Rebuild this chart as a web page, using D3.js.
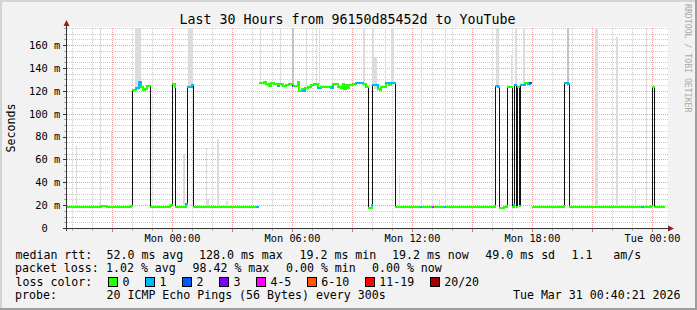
<!DOCTYPE html>
<html>
<head>
<meta charset="utf-8">
<script src="https://cdn.jsdelivr.net/npm/d3@7"></script>
<style>
body{margin:0;background:#f2f2f2}
svg{display:block;font-family:"DejaVu Sans Mono",monospace}
</style>
</head>
<body>
<script>
// SmokePing style latency graph, last 30 hours

var titleText = "Last 30 Hours from 96150d85452d to YouTube";
var viewStart = "Sun 18:45", viewEnd = "Tue 00:45";
var yMax = 175;
var yTicks = [0, 20, 40, 60, 80, 100, 120, 140, 160];

// median rtt (ms) per step, step lasts until the next entry, null = no data
var medTime = ["Sun 18:45","Sun 19:09","Sun 19:24","Sun 19:36","Sun 19:51","Sun 20:09","Sun 20:24","Sun 20:42","Sun 20:54","Sun 21:12",
  "Sun 21:30","Sun 21:45","Sun 21:54","Sun 22:00","Sun 22:09","Sun 22:18","Sun 22:25","Sun 22:31","Sun 22:36","Sun 22:42",
  "Sun 22:54","Sun 23:09","Sun 23:24","Sun 23:42","Sun 23:51","Sun 23:55","Mon 00:00","Mon 00:06","Mon 00:09","Mon 00:24",
  "Mon 00:40","Mon 00:45","Mon 00:57","Mon 01:02","Mon 02:48","Mon 04:12","Mon 04:17","Mon 04:22","Mon 04:34","Mon 04:39",
  "Mon 04:49","Mon 04:54","Mon 05:04","Mon 05:14","Mon 05:19","Mon 05:29","Mon 05:39","Mon 05:49","Mon 05:59","Mon 06:04",
  "Mon 06:14","Mon 06:19","Mon 06:27","Mon 06:31","Mon 06:37","Mon 06:44","Mon 06:54","Mon 07:04","Mon 07:14","Mon 07:24",
  "Mon 07:54","Mon 07:59","Mon 08:14","Mon 08:24","Mon 08:29","Mon 08:34","Mon 08:39","Mon 08:44","Mon 08:49","Mon 08:59",
  "Mon 09:09","Mon 09:29","Mon 09:39","Mon 09:47","Mon 09:57","Mon 10:00","Mon 10:14","Mon 10:21","Mon 10:24","Mon 10:39",
  "Mon 10:49","Mon 10:54","Mon 11:08","Mon 11:24","Mon 11:39","Mon 11:54","Mon 12:09","Mon 12:24","Mon 12:31","Mon 12:48",
  "Mon 12:59","Mon 13:05","Mon 13:24","Mon 13:36","Mon 13:42","Mon 14:00","Mon 14:18","Mon 14:39","Mon 15:00","Mon 15:24",
  "Mon 15:48","Mon 16:06","Mon 16:09","Mon 16:14","Mon 16:22","Mon 16:33","Mon 16:42","Mon 16:46","Mon 16:59","Mon 17:04",
  "Mon 17:06","Mon 17:11","Mon 17:16","Mon 17:21","Mon 17:25","Mon 17:37","Mon 17:46","Mon 17:52","Mon 17:56","Mon 18:01",
  "Mon 18:15","Mon 18:24","Mon 18:48","Mon 19:03","Mon 19:18","Mon 19:27","Mon 19:33","Mon 19:37","Mon 19:45","Mon 19:52",
  "Mon 20:09","Mon 20:24","Mon 20:42","Mon 20:54","Mon 21:24","Mon 21:42","Mon 22:09","Mon 22:24","Mon 22:54","Mon 23:15",
  "Mon 23:28","Mon 23:36","Mon 23:54","Tue 00:01","Tue 00:06","Tue 00:18","Tue 00:37"];
var medRtt = [19.0,18.6,19.0,18.7,19.1,18.8,19.3,18.8,19.2,18.7,
  19.0,18.6,19.6,121.5,122.5,128.0,123.5,121.0,122.3,124.5,
  18.9,18.6,19.0,18.7,19.5,20.2,126.5,123.7,18.9,18.7,
  21.6,123.7,125.3,18.5,19.0,19.0,null,127.5,128.4,126.6,
  125.1,127.5,126.6,125.1,126.6,125.1,125.7,126.6,124.5,125.1,
  128.4,120.7,122.2,120.7,123.2,124.2,125.7,126.6,123.2,124.2,
  123.2,126.0,124.2,123.2,126.6,122.2,125.5,122.5,125.7,126.6,
  127.5,126.6,124.2,18.1,21.0,125.3,122.0,121.5,123.7,127.0,
  125.7,127.5,19.0,18.5,19.0,18.5,19.0,18.6,18.8,18.5,
  18.5,18.8,19.2,18.8,19.0,18.6,19.2,18.7,19.0,18.8,
  19.1,19.5,125.1,123.5,18.2,18.8,19.8,124.2,19.0,21.0,
  125.5,19.2,124.2,19.5,125.7,127.5,126.0,127.5,null,19.0,
  18.4,19.0,18.5,19.0,18.5,19.0,20.0,127.0,126.0,19.0,
  18.5,19.0,18.6,19.0,18.8,19.1,18.7,19.0,18.6,19.0,
  18.5,19.0,19.6,124.2,18.8,19.0,null];
// lost pings out of 20 for each step
var medLoss = [0,0,0,0,0,0,0,0,0,0,
  0,0,0,0,1,1,0,0,0,0,
  0,0,0,0,0,0,0,0,0,0,
  1,1,1,0,0,1,0,0,0,0,
  0,0,0,1,0,0,0,0,3,0,
  0,0,0,1,0,0,0,0,1,0,
  1,0,0,0,0,0,0,0,0,0,
  1,0,0,0,1,1,0,0,0,1,
  0,1,0,0,0,0,0,1,0,0,
  4,0,0,1,0,0,0,0,0,0,
  0,0,1,1,0,0,0,0,0,1,
  1,0,0,0,1,0,1,2,0,0,
  0,0,0,0,0,0,0,1,1,0,
  0,0,0,0,0,0,0,0,0,0,
  1,0,0,0,0,0,0];

// smoke: spread of the individual pings
var smokeFrom = ["Sun 19:12","Sun 20:21","Sun 20:24","Sun 20:57","Sun 22:09","Mon 00:33","Mon 00:48","Mon 01:41","Mon 01:46","Mon 02:16",
  "Mon 02:43","Mon 04:24","Mon 05:24","Mon 06:01","Mon 06:42","Mon 07:12","Mon 07:22","Mon 09:34","Mon 10:01","Mon 10:06",
  "Mon 10:39","Mon 10:58","Mon 11:21","Mon 12:27","Mon 13:22","Mon 13:39","Mon 16:12","Mon 16:57","Mon 17:09","Mon 17:33",
  "Mon 19:45","Mon 21:09","Mon 22:12","Mon 23:09","Mon 23:42"];
var smokeTo = ["Sun 19:16","Sun 20:24","Sun 20:27","Sun 21:01","Sun 22:27","Mon 00:39","Mon 01:02","Mon 01:46","Mon 01:51","Mon 02:22",
  "Mon 02:48","Mon 04:28","Mon 05:28","Mon 06:07","Mon 06:45","Mon 07:16","Mon 07:25","Mon 09:40","Mon 10:06","Mon 10:15",
  "Mon 10:42","Mon 11:06","Mon 11:24","Mon 12:31","Mon 13:25","Mon 13:42","Mon 16:21","Mon 17:00","Mon 17:15","Mon 17:39",
  "Mon 19:52","Mon 21:18","Mon 22:18","Mon 23:12","Mon 23:45"];
var smokeLow = [19,19,19,19,121,19,123,19,19,19,19,127,125,124,124,123,124,125,125,122,127,127,19,19,19,19,124,124,125,126,126,19,19,19,19];
var smokeHigh = [73,23,175,84,175,65,175,70,25,78,24,175,175,175,175,175,175,175,175,150,175,175,46,175,25,175,175,151,175,175,175,175,167,35,175];
var smokeDense = [0,0,0,0,0,0,0,0,0,0,0,0,0,1,0,0,0,0,0,0,0,0,0,0,0,0,0,0,0,0,1,0,0,0,0];

var lossBins = [1, 2, 3, 4, 6, 11, 20];
var lossColors = ["#26ff00","#00b8ff","#0059ff","#7e00ff","#ff00ff","#ff5500","#ff0000","#a10000"];
var lossLabels = ["0","1","2","3","4-5","6-10","11-19","20/20"];

var rttStats = ["52.0 ms avg","128.0 ms max","19.2 ms min","19.2 ms now","49.0 ms sd","1.1","am/s"];
var lossStats = ["1.02 % avg","98.42 % max","0.00 % min","0.00 % now"];
var probeText = "20 ICMP Echo Pings (56 Bytes) every 300s";
var stampText = "Tue Mar 31 00:40:21 2026";

var W = 697, H = 310;
var X0 = 67, X1 = 667, Y0 = 228, Y1 = 28;
var dayOf = {Sun: 29, Mon: 30, Tue: 31};
function parse(s) {
  var p = s.split(" "), hm = p[1].split(":");
  return new Date(Date.UTC(2026, 2, dayOf[p[0]], +hm[0], +hm[1]));
}

var svg = d3.select("body").append("svg").attr("width", W).attr("height", H);

// frame
svg.append("rect").attr("width", W).attr("height", H).attr("fill", "#f2f2f2");
svg.append("rect").attr("width", W).attr("height", 2).attr("fill", "#d4d4d4");
svg.append("rect").attr("width", 2).attr("height", H).attr("fill", "#d4d4d4");
svg.append("rect").attr("y", H - 2).attr("width", W).attr("height", 2).attr("fill", "#9e9e9e");
svg.append("rect").attr("x", W - 2).attr("width", 2).attr("height", H).attr("fill", "#9e9e9e");
svg.append("rect").attr("x", X0).attr("y", Y1 - 1).attr("width", X1 - X0 + 1).attr("height", Y0 - Y1 + 1).attr("fill", "#fff");

var x = d3.scaleUtc().domain([parse(viewStart), parse(viewEnd)]).range([X0, X1]);
var y = d3.scaleLinear().domain([0, yMax]).range([Y0, Y1]);
var px = function(v) { return Math.round(v) + 0.5; };

// grid
var grid = svg.append("g").attr("stroke-dasharray", "1,1").attr("stroke-width", 1);
var hours = d3.utcHour.range(x.domain()[0], x.domain()[1]);
grid.selectAll("line.vx").data(hours).join("line")
  .attr("x1", d => px(x(d))).attr("x2", d => px(x(d)))
  .attr("y1", Y1).attr("y2", Y0)
  .attr("stroke", d => d.getUTCHours() % 3 === 0 ? "#f0a0a0" : "#cccccc");
var yMinor = d3.range(5, yMax + 1, 5);
grid.selectAll("line.hy").data(yMinor).join("line")
  .attr("x1", X0).attr("x2", X1 + 1)
  .attr("y1", d => px(y(d))).attr("y2", d => px(y(d)))
  .attr("stroke", d => d % 20 === 0 ? "#f0a0a0" : "#cccccc");

// smoke
var smoke = smokeFrom.map((s, i) => ({a: parse(s), b: parse(smokeTo[i]), lo: smokeLow[i], hi: smokeHigh[i], dense: smokeDense[i]}));
svg.append("g").selectAll("rect").data(smoke).join("rect")
  .attr("x", d => Math.round(x(d.a)))
  .attr("width", d => Math.max(1, Math.round(x(d.b)) - Math.round(x(d.a))))
  .attr("y", d => Math.round(y(d.hi)))
  .attr("height", d => Math.round(y(d.lo)) - Math.round(y(d.hi)))
  .attr("fill", d => d.dense ? "#c4c4c4" : "#dcdcdc");

// median line
var segs = medTime.map((s, i) => ({t: parse(s), v: medRtt[i], loss: medLoss[i]}));
var pts = [];
segs.forEach(function(d, i) {
  pts.push(d);
  var nx = segs[i + 1];
  if (d.v != null && nx && nx.v == null) pts.push({t: nx.t, v: d.v});
});
var step = d3.line()
  .defined(d => d.v != null)
  .x(d => Math.round(x(d.t)) + 0.5)
  .y(d => Math.ceil(y(d.v)) - 0.5)
  .curve(d3.curveStepAfter);
svg.append("path").datum(pts).attr("d", step)
  .attr("fill", "none").attr("stroke", "#111").attr("stroke-width", 1);

var lossColor = d3.scaleThreshold().domain(lossBins).range(lossColors);
var colored = segs.map((d, i) => ({d: d, nx: segs[i + 1]})).filter(s => s.d.v != null && s.nx);
svg.append("g").selectAll("path").data(colored).join("path")
  .attr("d", function(s) {
    var yy = Math.ceil(y(s.d.v));
    var p = "M" + Math.round(x(s.d.t)) + "," + yy + "H" + (Math.round(x(s.nx.t)) + 1);
    if (s.nx.v != null && Math.abs(s.nx.v - s.d.v) < 8) p += "V" + Math.ceil(y(s.nx.v));
    return p;
  })
  .attr("fill", "none").attr("stroke-width", 2)
  .attr("stroke", s => lossColor(s.d.loss));

// axes
var axisCol = "#333", arrowCol = "#951c1c";
svg.append("line").attr("x1", X0 - 3).attr("x2", X1 + 2).attr("y1", px(Y0)).attr("y2", px(Y0)).attr("stroke", axisCol);
svg.append("line").attr("x1", px(X0 - 1)).attr("x2", px(X0 - 1)).attr("y1", Y0 + 3).attr("y2", Y1 - 3).attr("stroke", axisCol);
svg.append("path").attr("d", "M" + (X1 + 1) + "," + (Y0 - 2.5) + "L" + (X1 + 7) + "," + (Y0 + 0.5) + "L" + (X1 + 1) + "," + (Y0 + 3.5) + "Z").attr("fill", arrowCol);
svg.append("path").attr("d", "M" + (X0 - 3.5) + "," + (Y1 - 2) + "L" + (X0 - 0.5) + "," + (Y1 - 8) + "L" + (X0 + 2.5) + "," + (Y1 - 2) + "Z").attr("fill", arrowCol);

svg.append("g").selectAll("line").data(hours).join("line")
  .attr("x1", d => px(x(d))).attr("x2", d => px(x(d)))
  .attr("y1", Y0 + 1).attr("y2", d => d.getUTCHours() % 3 === 0 ? Y0 + 4 : Y0 + 3)
  .attr("stroke", d => d.getUTCHours() % 3 === 0 ? "#e07070" : "#aaa");
svg.append("g").selectAll("line").data(yMinor.concat([0])).join("line")
  .attr("x1", d => d % 20 === 0 ? X0 - 4 : X0 - 3).attr("x2", X0 - 1)
  .attr("y1", d => px(y(d))).attr("y2", d => px(y(d)))
  .attr("stroke", d => d % 20 === 0 ? axisCol : "#aaa");

var fmtTime = d3.utcFormat("%a %H:%M");
svg.append("g").selectAll("text").data(hours.filter(d => d.getUTCHours() % 6 === 0)).join("text")
  .attr("x", d => x(d) + 0.5).attr("y", 241.5)
  .attr("text-anchor", "middle").attr("font-size", "10.3px")
  .text(d => fmtTime(d));
svg.append("g").selectAll("text").data(yTicks).join("text")
  .attr("x", d => d === 0 ? 47.8 : 60.3).attr("y", d => y(d) + 3.8)
  .attr("text-anchor", "end").attr("font-size", "10.4px")
  .text(d => d === 0 ? "0" : d + " m");

// titles
svg.append("text").attr("x", 347.5).attr("y", 23.5).attr("text-anchor", "middle")
  .attr("font-size", "13.3px").text(titleText);
svg.append("text").attr("transform", "translate(15,128) rotate(-90)").attr("text-anchor", "middle")
  .attr("font-size", "11.6px").text("Seconds");
svg.append("text").attr("transform", "translate(684.5,4) rotate(90)")
  .attr("font-size", "8.2px").attr("fill", "#aaa").text("RRDTOOL / TOBI OETIKER");

// legend
var leg = svg.append("g").attr("font-size", "11.6px");
var rows = [258.5, 272, 285.7, 299.3];
var rttX = [106.5, 199, 299.5, 392, 485.3, 571.5, 613.3];
var lossX = [106, 192.5, 286, 372];
leg.append("text").attr("x", 15.5).attr("y", rows[0]).text("median rtt:");
leg.selectAll("text.r").data(rttStats).join("text").attr("class", "r")
  .attr("x", (d, i) => rttX[i]).attr("y", rows[0]).text(d => d);
leg.append("text").attr("x", 15).attr("y", rows[1]).text("packet loss:");
leg.selectAll("text.l").data(lossStats).join("text").attr("class", "l")
  .attr("x", (d, i) => lossX[i]).attr("y", rows[1]).text(d => d);
leg.append("text").attr("x", 15.5).attr("y", rows[2]).text("loss color:");
var bx = [108];
lossLabels.forEach(function(l, i) { if (i > 0) bx.push(bx[i - 1] + 30 + 6.98 * lossLabels[i - 1].length); });
leg.selectAll("rect").data(lossLabels).join("rect")
  .attr("x", (d, i) => Math.round(bx[i]) + 0.5).attr("y", 277.5)
  .attr("width", 9).attr("height", 9)
  .attr("fill", (d, i) => lossColors[i]).attr("stroke", "#000");
leg.selectAll("text.c").data(lossLabels).join("text").attr("class", "c")
  .attr("x", (d, i) => bx[i] + 14.5).attr("y", rows[2]).text(d => d);
leg.append("text").attr("x", 15).attr("y", rows[3]).text("probe:");
leg.append("text").attr("x", 106.5).attr("y", rows[3]).text(probeText);
leg.append("text").attr("x", 680.5).attr("y", rows[3]).attr("text-anchor", "end").text(stampText);
</script>
</body>
</html>
